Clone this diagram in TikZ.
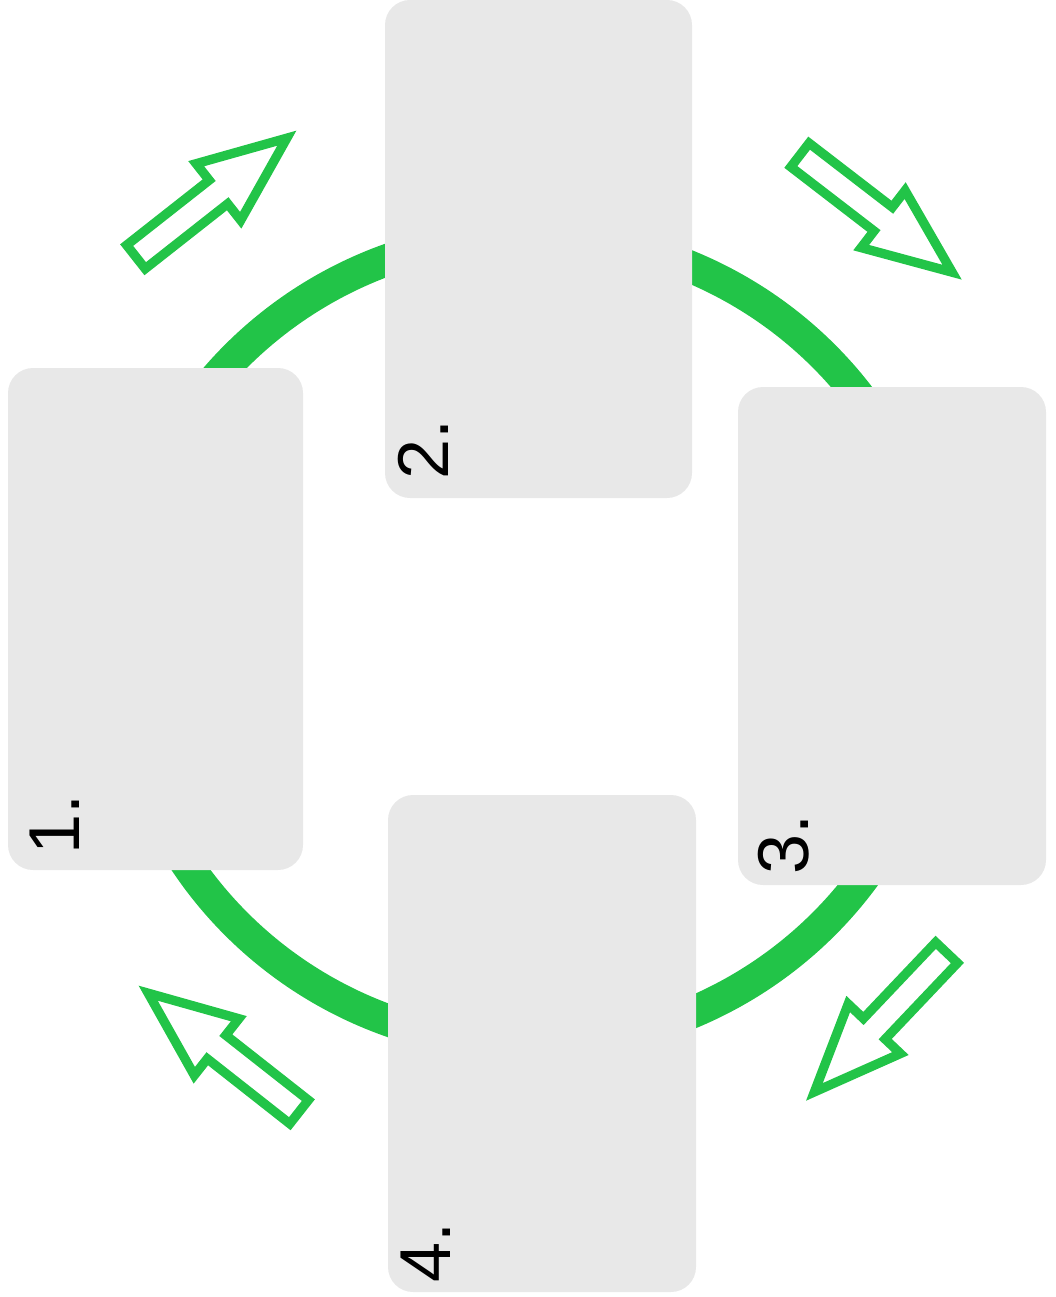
\documentclass[tikz,border=0pt]{standalone}
\usepackage{fontspec}
\setmainfont{Liberation Sans}
\definecolor{ringgreen}{RGB}{34,196,72}
\definecolor{cardgray}{RGB}{232,232,232}
\begin{document}
\begin{tikzpicture}[x=0.02cm, y=-0.02cm,
    card/.style={fill=cardgray, rounded corners=0.5cm, inner sep=0pt},
    ring/.style={ringgreen, line width=18.2pt},
    hollowarrow/.style={ringgreen, line width=5.3pt, line join=miter},
    num/.style={rotate=90, anchor=base west, inner sep=0pt, font=\fontsize{41}{41}\selectfont}]

  \useasboundingbox (0,0) rectangle (1055,1297);

  % ring behind the cards
  \draw[ring] (530,640) ellipse [x radius=412, y radius=405];

  \node[card, minimum width=295*0.02cm, minimum height=502*0.02cm] (box1) at (155.5,619) {};
  \node[card, minimum width=307*0.02cm, minimum height=498*0.02cm] (box2) at (538.5,249) {};
  \node[card, minimum width=308*0.02cm, minimum height=498*0.02cm] (box3) at (892,636) {};
  \node[card, minimum width=308*0.02cm, minimum height=497*0.02cm] (box4) at (542,1043.5) {};

  \node[num] (lab1) at (79,855) {1.};
  \node[num] (lab2) at (448,480) {2.};
  \node[num] (lab3) at (808,875) {3.};
  \node[num] (lab4) at (450,1283) {4.};

  % hollow arrows: tail x, tail y, angle
  \foreach \tx/\ty/\ang in {132/260/38.2, 796/152/-37.6, 950/949/-133.5, 303/1115/141.8}
    \draw[hollowarrow, shift={(\tx,\ty)}, rotate=\ang]
      (5,-15) -- (110,-15) -- (110,-36) -- (197,0) -- (110,36) -- (110,15) -- (5,15) -- cycle;

\end{tikzpicture}
\end{document}
